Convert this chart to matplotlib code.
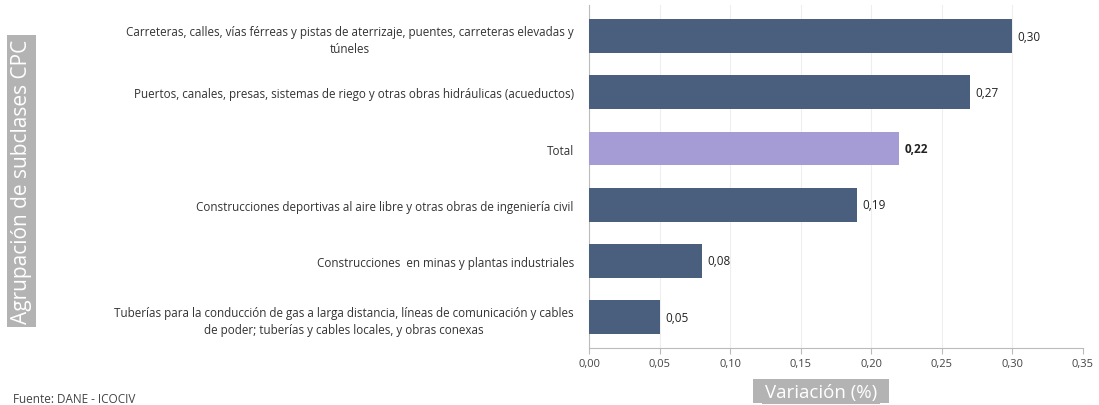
import matplotlib
matplotlib.use("Agg")
import matplotlib.pyplot as plt
import numpy as np

categories = [
    "Carreteras, calles, vías férreas y pistas de aterrizaje, puentes, carreteras elevadas y\ntúneles",
    "Puertos, canales, presas, sistemas de riego y otras obras hidráulicas (acueductos)",
    "Total",
    "Construcciones deportivas al aire libre y otras obras de ingeniería civil",
    "Construcciones  en minas y plantas industriales",
    "Tuberías para la conducción de gas a larga distancia, líneas de comunicación y cables\nde poder; tuberías y cables locales, y obras conexas",
]
values = [0.30, 0.27, 0.22, 0.19, 0.08, 0.05]
value_labels = ["0,30", "0,27", "0,22", "0,19", "0,08", "0,05"]
x_ticks = [0.00, 0.05, 0.10, 0.15, 0.20, 0.25, 0.30, 0.35]
x_tick_labels = ["0,00", "0,05", "0,10", "0,15", "0,20", "0,25", "0,30", "0,35"]

plt.rcParams['font.family'] = ['Open Sans', 'DejaVu Sans']

fig = plt.figure(figsize=(10.99, 4.06), dpi=100)
ax = fig.add_axes([0.536, 0.140, 0.449, 0.845])

dark = "#4a5f7e"
total_c = "#a59cd6"
colors = [total_c if c == "Total" else dark for c in categories]
y = np.arange(len(categories))
ax.barh(y, values, height=0.6, color=colors, zorder=3)
ax.set_ylim(len(categories) - 0.45, -0.55)
ax.set_xlim(0, 0.35)
ax.set_yticks(y)
ax.set_yticklabels(categories, fontsize=8.4, color="#333333", ha="right",
                   multialignment="center", linespacing=1.45)
ax.tick_params(axis="y", length=0, pad=11)
ax.set_xticks(x_ticks)
ax.set_xticklabels(x_tick_labels, fontsize=8, color="#444444")
ax.tick_params(axis="x", length=4, color="#bbbbbb", pad=3)
ax.grid(axis="x", color="#eeeeee", linewidth=0.8, zorder=0)
for s in ["top", "right"]:
    ax.spines[s].set_visible(False)
ax.spines["left"].set_color("#bbbbbb")
ax.spines["bottom"].set_color("#bbbbbb")

for yi, v, lab, c in zip(y, values, value_labels, categories):
    ax.text(v + 0.004, yi, lab, va="center", ha="left", fontsize=8.5,
            color="#222222", fontweight="bold" if c == "Total" else "normal")

fig.text(0.747, 0.032, "Variación (%)", ha="center", va="center", fontsize=13.5,
         color="white", bbox=dict(boxstyle="square,pad=0.15", fc="#b3b3b3", ec="none"))
fig.patches.append(plt.Rectangle((753 / 1099, 2 / 406), 136 / 1099, 24 / 406,
                                 transform=fig.transFigure, fc="#b3b3b3", ec="none", zorder=0))
fig.text(0.0195, 0.552, "Agrupación de subclases CPC", ha="center", va="center",
         rotation=90, fontsize=15, color="white",
         bbox=dict(boxstyle="square,pad=0.2", fc="#b3b3b3", ec="none"))
fig.text(0.012, 0.0, "Fuente: DANE - ICOCIV", ha="left", va="bottom", fontsize=8.5, color="#444444")

fig.savefig("out.png", dpi=100)
